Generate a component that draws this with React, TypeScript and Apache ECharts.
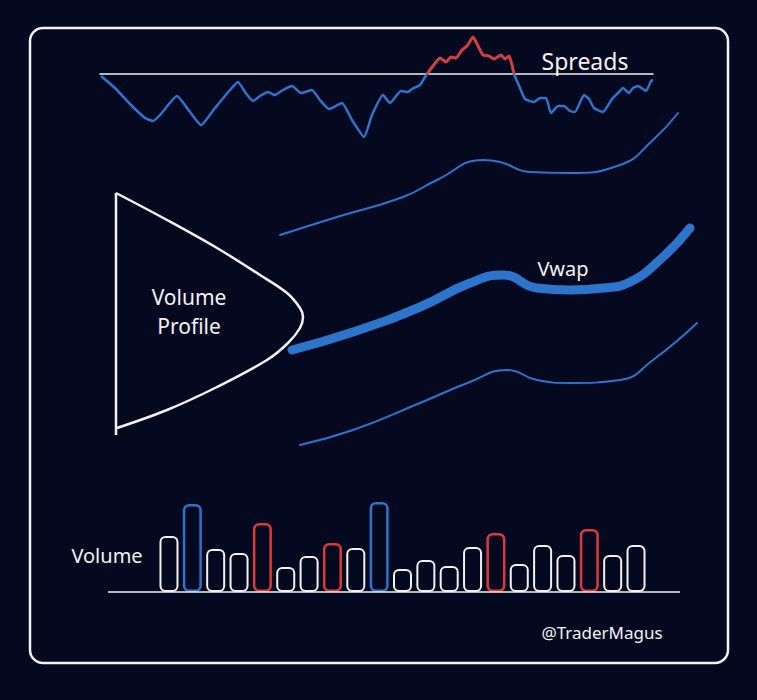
import React, { useEffect, useRef } from "react";
import * as echarts from "echarts";

// Spreads: time position vs spread value (0 = baseline)
const spreadX = [101,115,130,145,153,160,177,190,201,215,230,238,245,253,260,268,275,283,292,301,312,320,329,342,352,364,372,383,390,401,408,412,420,425,427,433,440,446,451,456,462,467,473,478,483,489,494,501,505,509,512,514,520,525,534,540,546,551,558,564,570,575,584,589,594,603,612,618,623,629,633,638,646,651,653];
const spreadY = [-2,-14,-30,-44,-47,-41,-22,-38,-51,-34,-16,-8,-18,-27,-22,-18,-21,-16,-12,-19,-16,-26,-35,-29,-46,-63,-41,-21,-29,-17,-18,-15,-11,-3,0,8,16,12,17,16,24,28,37,28,19,18,15,19,15,18,9,0,-14,-25,-28,-24,-24,-39,-32,-32,-37,-38,-21,-25,-34,-38,-25,-19,-14,-19,-14,-12,-17,-7,-6];

// VWAP and bands (time, price level on sketch scale)
const bandX = [280,337,403,437,483,500,530,570,620,653,678];
const upperBand = [235,217,197,180,160,162,172,173,165,140,113];
const vwapX = [292,353,420,470,503,537,570,603,630,663,690];
const vwapY = [350,332,307,283,275,288,290,288,282,257,228];
const lowerX = [300,353,420,470,507,537,570,620,653,697];
const lowerBand = [445,430,403,382,370,380,383,380,360,323];

// Volume profile outline
const profileX = [116,167,217,260,287,300,303,300,288,267,217,167,117];
const profileY = [193,220,248,275,293,308,317,328,343,360,387,410,428];
const profileAxisX = [116,116];
const profileAxisY = [193,435];

// Volume bars
const volCats = Array.from({ length: 21 }, (_, i) => `B${i + 1}`);
const volValues = [56,88,43,39,69,25,36,49,44,90,23,32,26,45,59,28,47,37,63,37,47];
const volKinds = ["w","b","w","w","r","w","w","r","w","b","w","w","w","w","r","w","w","w","r","w","w"];

const BG = "#040920";
const BLUE = "#2c74cc";
const RED = "#dd3a3a";
const WHITE = "#f2f2f2";
const FONT = "Noto Sans";

export default function App() {
  const ref = useRef<HTMLDivElement>(null);
  useEffect(() => {
    document.body.style.margin = "0";
    document.body.style.background = BG;
    const chart = echarts.init(ref.current!, null, { renderer: "svg" });
    const zip = (xs: number[], ys: number[]) => xs.map((x, i) => [x, ys[i]]);
    const kindColor = (k: string) => (k === "b" ? BLUE : k === "r" ? RED : WHITE);
    // positive (above baseline) stretch of the spread, including the zero crossings
    const firstPos = spreadY.findIndex((v, i) => v > 0) - 1;
    let lastPos = firstPos + 1;
    while (lastPos < spreadY.length && spreadY[lastPos] > 0) lastPos++;
    const redPart = zip(spreadX, spreadY).slice(firstPos, lastPos + 1);
    chart.setOption({
      animation: false,
      backgroundColor: BG,
      grid: [
        { left: 0, top: 0, width: 757, height: 700 },
        { left: 100, top: 34, width: 553, height: 110 },
        { left: 157.3, top: 492, width: 490.4, height: 100 },
      ],
      xAxis: [
        { type: "value", gridIndex: 0, min: 0, max: 757, show: false },
        {
          type: "value", gridIndex: 1, min: 100, max: 653,
          axisLine: { show: true, onZero: true, lineStyle: { color: WHITE, width: 1.5 } },
          axisTick: { show: false }, axisLabel: { show: false }, splitLine: { show: false },
        },
        { type: "category", gridIndex: 2, data: volCats, show: false },
      ],
      yAxis: [
        { type: "value", gridIndex: 0, min: 0, max: 700, inverse: true, show: false },
        { type: "value", gridIndex: 1, min: -70, max: 40, show: false },
        { type: "value", gridIndex: 2, min: 0, max: 100, show: false },
      ],
      series: [
        {
          type: "line", xAxisIndex: 1, yAxisIndex: 1, data: zip(spreadX, spreadY),
          showSymbol: false, smooth: 0.15, lineStyle: { color: BLUE, width: 2.5 },
        },
        {
          type: "line", xAxisIndex: 1, yAxisIndex: 1, data: redPart,
          showSymbol: false, smooth: 0.15, lineStyle: { color: RED, width: 2.8 }, z: 3,
        },
        {
          type: "line", xAxisIndex: 0, yAxisIndex: 0, data: zip(bandX, upperBand),
          showSymbol: false, smooth: true, lineStyle: { color: BLUE, width: 2, cap: "round" },
        },
        {
          type: "line", xAxisIndex: 0, yAxisIndex: 0, data: zip(vwapX, vwapY),
          showSymbol: false, smooth: true, lineStyle: { color: BLUE, width: 9, cap: "round", join: "round" },
        },
        {
          type: "line", xAxisIndex: 0, yAxisIndex: 0, data: zip(lowerX, lowerBand),
          showSymbol: false, smooth: true, lineStyle: { color: BLUE, width: 2, cap: "round" },
        },
        {
          type: "line", xAxisIndex: 0, yAxisIndex: 0, data: zip(profileX, profileY),
          showSymbol: false, smooth: 0.35, lineStyle: { color: WHITE, width: 2.5 },
        },
        {
          type: "line", xAxisIndex: 0, yAxisIndex: 0, data: zip(profileAxisX, profileAxisY),
          showSymbol: false, lineStyle: { color: WHITE, width: 2.5 },
        },
        {
          type: "bar", xAxisIndex: 2, yAxisIndex: 2, barWidth: 19,
          data: volValues.map((v, i) => ({
            value: v,
            itemStyle: { color: BG, borderColor: kindColor(volKinds[i]), borderWidth: volKinds[i] === "w" ? 2 : 2.5, borderRadius: 5 },
          })),
        },
      ],
      graphic: [
        {
          type: "rect", shape: { x: 30, y: 28, width: 698, height: 635, r: 13 },
          style: { fill: "none", stroke: WHITE, lineWidth: 2.5 }, silent: true, z: 10,
        },
        {
          type: "line", shape: { x1: 108, y1: 592, x2: 680, y2: 592 },
          style: { stroke: WHITE, lineWidth: 1.5 }, z: 5,
        },
        {
          type: "text", x: 585, y: 61,
          style: { text: "Spreads", fill: WHITE, font: `23px '${FONT}'`, align: "center", verticalAlign: "middle" },
        },
        {
          type: "text", x: 189, y: 297,
          style: { text: "Volume", fill: WHITE, font: `21px '${FONT}'`, align: "center", verticalAlign: "middle" },
        },
        {
          type: "text", x: 189, y: 326,
          style: { text: "Profile", fill: WHITE, font: `21px '${FONT}'`, align: "center", verticalAlign: "middle" },
        },
        {
          type: "text", x: 563, y: 268,
          style: { text: "Vwap", fill: WHITE, font: `20px '${FONT}'`, align: "center", verticalAlign: "middle" },
        },
        {
          type: "text", x: 107, y: 555,
          style: { text: "Volume", fill: WHITE, font: `20px '${FONT}'`, align: "center", verticalAlign: "middle" },
        },
        {
          type: "text", x: 602, y: 632,
          style: { text: "@TraderMagus", fill: WHITE, font: `17px '${FONT}'`, align: "center", verticalAlign: "middle" },
        },
      ],
    });
    return () => chart.dispose();
  }, []);
  return <div ref={ref} style={{ position: "fixed", left: 0, top: 0, width: 757, height: 700 }} />;
}
